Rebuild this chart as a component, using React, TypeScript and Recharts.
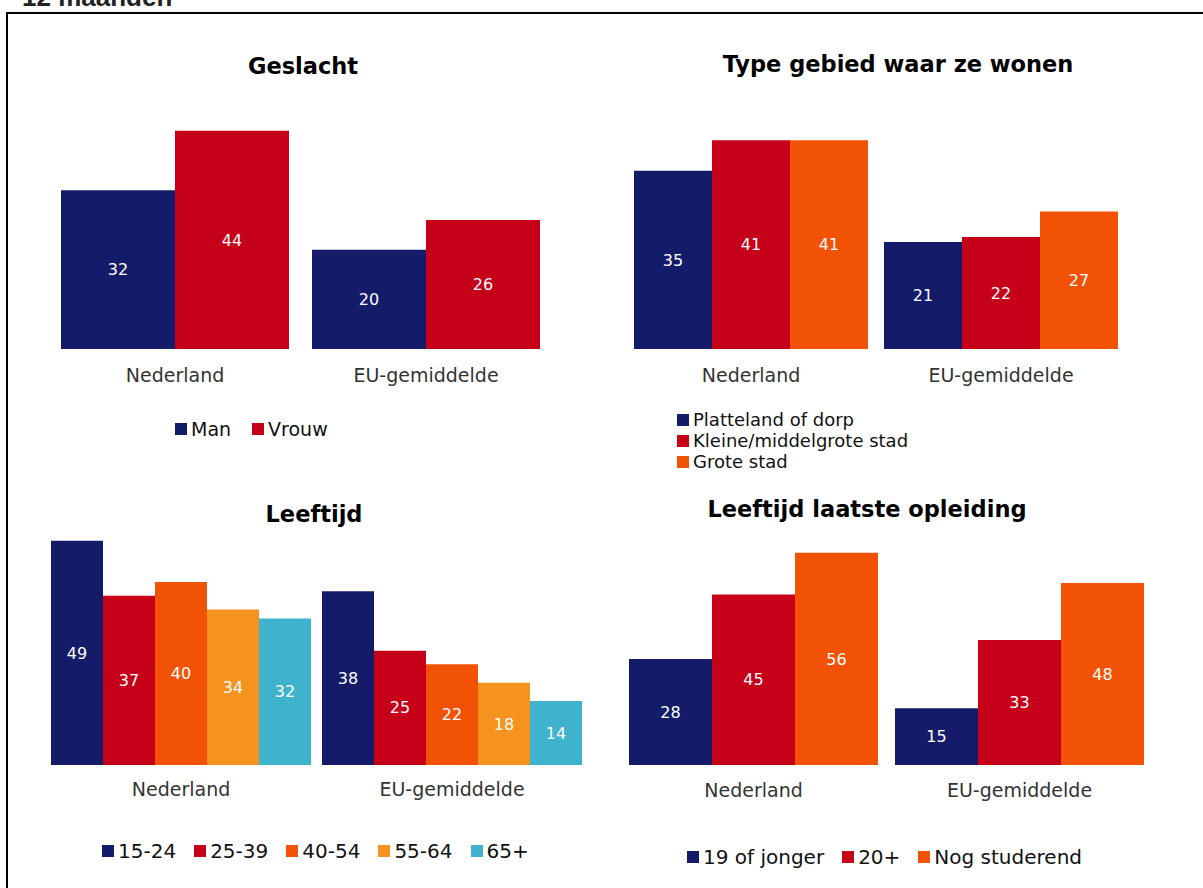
import { BarChart, Bar, XAxis, YAxis, LabelList } from 'recharts';

const FONT = '"DejaVu Sans", Verdana, sans-serif';

const regions = ['Nederland', 'EU-gemiddelde'];

const genderSeries = ['Man', 'Vrouw'];
const genderValues = [
  [32, 20],
  [44, 26],
];

const areaSeries = ['Platteland of dorp', 'Kleine/middelgrote stad', 'Grote stad'];
const areaValues = [
  [35, 21],
  [41, 22],
  [41, 27],
];

const ageSeries = ['15-24', '25-39', '40-54', '55-64', '65+'];
const ageValues = [
  [49, 38],
  [37, 25],
  [40, 22],
  [34, 18],
  [32, 14],
];

const eduSeries = ['19 of jonger', '20+', 'Nog studerend'];
const eduValues = [
  [28, 15],
  [45, 33],
  [56, 48],
];

const NAVY = '#141c6a';
const RED = '#c60019';
const ORANGE = '#f15206';
const AMBER = '#f6921e';
const TEAL = '#3fb2ce';

const palette = [NAVY, RED, ORANGE, AMBER, TEAL];

function buildRows(values: number[][]) {
  return regions.map((name, i) => {
    const row: Record<string, string | number> = { name };
    values.forEach((v, s) => {
      row['s' + s] = v[i];
    });
    return row;
  });
}

interface PanelProps {
  series: string[];
  values: number[][];
  left: number;
  top: number;
  width: number;
  height: number;
  margin: { top: number; right: number; left: number; bottom: number };
  yMax: number;
  gap: number;
  tickMargin: number;
}

function Panel({ series, values, left, top, width, height, margin, yMax, gap, tickMargin }: PanelProps) {
  const data = buildRows(values);
  return (
    <div style={{ position: 'absolute', left, top }}>
      <BarChart width={width} height={height} data={data} margin={margin} barCategoryGap={gap} barGap={0}>
        <XAxis
          dataKey="name"
          axisLine={false}
          tickLine={false}
          height={45}
          tickMargin={tickMargin}
          tick={{ fill: '#333', fontSize: 19, fontFamily: FONT }}
        />
        <YAxis hide domain={[0, yMax]} allowDataOverflow />
        {series.map((s, i) => (
          <Bar key={s} dataKey={'s' + i} name={s} fill={palette[i]} isAnimationActive={false}>
            <LabelList dataKey={'s' + i} position="center" fill="#fff" fontSize={16} fontFamily={FONT} />
          </Bar>
        ))}
      </BarChart>
    </div>
  );
}

// simple legend built from the series names
function LegendBox({
  series,
  left,
  top,
  vertical,
  itemGap,
  fontSize,
}: {
  series: string[];
  left: number;
  top: number;
  vertical?: boolean;
  itemGap?: number;
  fontSize: number;
}) {
  return (
    <div
      style={{
        position: 'absolute',
        left,
        top,
        display: 'flex',
        flexDirection: vertical ? 'column' : 'row',
        fontFamily: FONT,
        fontSize,
        color: '#111',
        lineHeight: vertical ? '21px' : '22px',
        whiteSpace: 'nowrap',
      }}
    >
      {series.map((s, i) => (
        <div key={s} style={{ display: 'flex', alignItems: 'center', marginRight: vertical ? 0 : itemGap }}>
          <span style={{ width: 12, height: 12, background: palette[i], marginRight: 4, display: 'inline-block' }} />
          <span>{s}</span>
        </div>
      ))}
    </div>
  );
}

function Title({ text, cx, cy }: { text: string; cx: number; cy: number }) {
  return (
    <div
      style={{
        position: 'absolute',
        left: cx - 300,
        top: cy - 14,
        width: 600,
        textAlign: 'center',
        fontFamily: FONT,
        fontWeight: 'bold',
        fontSize: 22.5,
        lineHeight: '28px',
        color: '#000',
      }}
    >
      {text}
    </div>
  );
}

export default function App() {
  return (
    <div
      style={{
        position: 'absolute',
        left: 0,
        top: 0,
        width: 1203,
        height: 888,
        overflow: 'hidden',
        background: '#fff',
      }}
    >
      <div
        style={{
          position: 'absolute',
          left: 22,
          top: -17,
          fontFamily: '"Liberation Sans", Arial, sans-serif',
          fontWeight: 'bold',
          fontSize: 26,
          lineHeight: '28px',
          color: '#222',
        }}
      >
        12 maanden
      </div>
      <div
        style={{
          position: 'absolute',
          left: 6,
          top: 12,
          width: 1300,
          height: 1000,
          borderLeft: '2px solid #000',
          borderTop: '2px solid #000',
        }}
      />

      <Title text="Geslacht" cx={303} cy={66} />
      <Panel
        series={genderSeries}
        values={genderValues}
        left={40}
        top={80}
        width={520}
        height={314}
        margin={{ top: 21, right: 8.5, left: 9.5, bottom: 0 }}
        yMax={50}
        gap={11.5}
        tickMargin={14}
      />
      <LegendBox series={genderSeries} left={175} top={418} itemGap={21} fontSize={19} />

      <Title text="Type gebied waar ze wonen" cx={898} cy={64} />
      <Panel
        series={areaSeries}
        values={areaValues}
        left={616}
        top={80}
        width={520}
        height={314}
        margin={{ top: 14.5, right: 10, left: 10, bottom: 0 }}
        yMax={50}
        gap={8}
        tickMargin={14}
      />
      <LegendBox series={areaSeries} left={677} top={409} vertical fontSize={18} />

      <Title text="Leeftijd" cx={314} cy={514} />
      <Panel
        series={ageSeries}
        values={ageValues}
        left={36}
        top={520}
        width={560}
        height={290}
        margin={{ top: 16.25, right: 8.5, left: 9.5, bottom: 0 }}
        yMax={50}
        gap={5.5}
        tickMargin={12}
      />
      <LegendBox series={ageSeries} left={102} top={840} itemGap={18} fontSize={20} />

      <Title text="Leeftijd laatste opleiding" cx={867} cy={509} />
      <Panel
        series={eduSeries}
        values={eduValues}
        left={612}
        top={520}
        width={550}
        height={290}
        margin={{ top: 17.6, right: 9.5, left: 8.5, bottom: 0 }}
        yMax={60}
        gap={8.5}
        tickMargin={13}
      />
      <LegendBox series={eduSeries} left={687} top={846} itemGap={18} fontSize={20} />
    </div>
  );
}
